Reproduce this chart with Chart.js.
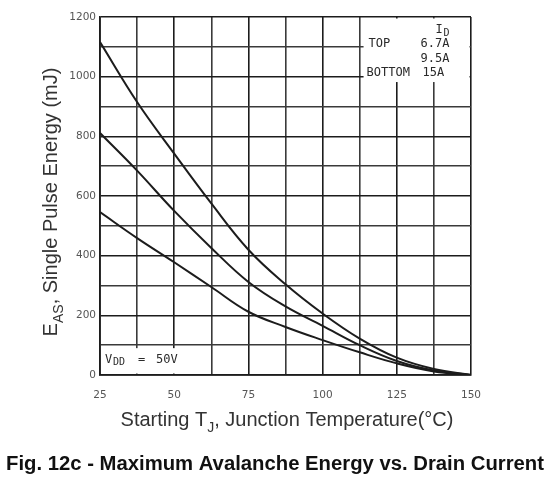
<!DOCTYPE html>
<html>
<head>
<meta charset="utf-8">
<script src="https://cdn.jsdelivr.net/npm/chart.js@4/dist/chart.umd.min.js"></script>
<style>
  html, body { margin: 0; padding: 0; background: #fff; }
  #wrap { width: 552px; height: 477px; position: relative; }
</style>
</head>
<body>
<div id="wrap"><canvas id="chart"></canvas></div>
<script>
'use strict';

// starting junction temperature (°C)
const temps = [25, 37.5, 50, 62.5, 75, 87.5, 100, 112.5, 125, 137.5, 150]
// single pulse avalanche energy (mJ) for each drain current
const eas67 = [1116, 915, 742, 575, 420, 304, 206, 122, 58, 20, 0]
const eas95 = [811, 685, 550, 426, 312, 230, 165, 100, 47, 15, 0]
const eas15 = [546, 459, 378, 295, 212, 161, 117, 76, 39, 12, 0]

const currents = ['6.7A', '9.5A', '15A']
const xTicks = [25, 50, 75, 100, 125, 150]
const yTicks = [0, 200, 400, 600, 800, 1000, 1200]

const ink = '#1c1c1c'

function points(ys) {
    return temps.map(function (t, i) { return { x: t, y: ys[i] } })
}

// draws text pieces in a row, some of them as subscripts
function drawRich(ctx, parts, x, y, size, weight, family) {
    var total = 0
    for (var p of parts) {
        ctx.font = weight + ' ' + (p.sub ? size * 0.7 : size) + 'px ' + family
        p.w = ctx.measureText(p.t).width
        total += p.w
    }
    var cx = x - total / 2
    ctx.textAlign = 'left'
    ctx.textBaseline = 'alphabetic'
    for (var p of parts) {
        ctx.font = weight + ' ' + (p.sub ? size * 0.7 : size) + 'px ' + family
        ctx.fillText(p.t, cx, p.sub ? y + size * 0.28 : y)
        cx += p.w
    }
}

const notes = {
    id: 'notes',
    beforeDatasetsDraw(chart) {
        var ctx = chart.ctx
        var x = chart.scales.x
        var y = chart.scales.y
        var area = chart.chartArea
        ctx.save()
        ctx.fillStyle = '#fff'
        // legend box top right
        var lx = x.getPixelForValue(113.8)
        var ly = y.getPixelForValue(982)
        ctx.fillRect(lx, area.top + 1.5, area.right - 1.5 - lx, ly - area.top - 1.5)
        // supply voltage box bottom left
        var vx = x.getPixelForValue(53.5)
        var vy = y.getPixelForValue(90)
        ctx.fillRect(area.left + 1.5, vy, vx - area.left - 1.5, area.bottom - 1.5 - vy)

        ctx.fillStyle = '#2a2a2a'
        ctx.textBaseline = 'alphabetic'
        ctx.textAlign = 'left'
        var mono = '"DejaVu Sans Mono", monospace'
        ctx.font = '12px ' + mono
        ctx.fillText('I', lx + 72, area.top + 16)
        ctx.font = '10px ' + mono
        ctx.fillText('D', lx + 80, area.top + 19)
        ctx.font = '12px ' + mono
        ctx.fillText('TOP', lx + 5, area.top + 30)
        ctx.fillText(currents[0], lx + 57, area.top + 30)
        ctx.fillText(currents[1], lx + 57, area.top + 45)
        ctx.fillText('BOTTOM', lx + 3, area.top + 59)
        ctx.fillText(currents[2], lx + 59, area.top + 59)

        ctx.fillText('V', area.left + 5, area.bottom - 12)
        ctx.font = '10px ' + mono
        ctx.fillText('DD', area.left + 13, area.bottom - 10)
        ctx.font = '12px ' + mono
        ctx.fillText('=', area.left + 38, area.bottom - 12)
        ctx.fillText('50V', area.left + 56, area.bottom - 12)
        ctx.restore()
    },
    afterDraw(chart) {
        var ctx = chart.ctx
        var sans = '"Liberation Sans", Arial, sans-serif'
        ctx.save()
        ctx.fillStyle = '#333'
        drawRich(ctx, [
            { t: 'Starting T' }, { t: 'J', sub: true }, { t: ', Junction Temperature(°C)' }
        ], 287, 426, 20, 'normal', sans)

        ctx.save()
        ctx.translate(57, 202)
        ctx.rotate(-Math.PI / 2)
        drawRich(ctx, [
            { t: 'E' }, { t: 'AS', sub: true }, { t: ', Single Pulse Energy (mJ)' }
        ], 0, 0, 20, 'normal', sans)
        ctx.restore()

        ctx.fillStyle = '#111'
        drawRich(ctx, [
            { t: 'Fig. 12c - Maximum Avalanche Energy vs. Drain Current' }
        ], 275, 470, 20.3, 'bold', sans)
        ctx.restore()
    }
}

function gridColor(step) {
    return function (c) {
        return c.tick && c.tick.value % step === 0 ? ink : '#3a3a3a'
    }
}

function line(label, ys) {
    return {
        label: label,
        data: points(ys),
        borderColor: ink,
        borderWidth: 2,
        pointRadius: 0,
        fill: false,
        tension: 0.4
    }
}

new Chart(document.getElementById('chart'), {
    type: 'line',
    data: {
        datasets: [
            line(currents[0], eas67),
            line(currents[1], eas95),
            line(currents[2], eas15),
        ]
    },
    options: {
        responsive: true,
        maintainAspectRatio: false,
        animation: false,
        events: [],
        layout: { padding: { left: 0, top: 17, right: 81, bottom: 0 } },
        plugins: {
            legend: { display: false },
            tooltip: { enabled: false },
            title: { display: false }
        },
        scales: {
            x: {
                type: 'linear',
                min: 25,
                max: 150,
                afterFit: function (s) { s.height = 102 },
                grid: { color: gridColor(25), lineWidth: 1.6, drawTicks: false },
                border: { color: ink, width: 1.8 },
                ticks: {
                    stepSize: 12.5,
                    autoSkip: false,
                    maxRotation: 0,
                    maxTicksLimit: 20,
                    padding: 14,
                    color: '#555',
                    font: { family: '"DejaVu Sans", sans-serif', size: 10.5 },
                    callback: function (v) { return xTicks.includes(v) ? String(v) : '' }
                }
            },
            y: {
                min: 0,
                max: 1200,
                afterFit: function (s) { s.width = 100 },
                grid: { color: gridColor(200), lineWidth: 1.6, drawTicks: false },
                border: { color: ink, width: 1.8 },
                ticks: {
                    stepSize: 100,
                    autoSkip: false,
                    maxTicksLimit: 20,
                    padding: 4,
                    color: '#555',
                    font: { family: '"DejaVu Sans", sans-serif', size: 10.5 },
                    callback: function (v) { return yTicks.includes(v) ? String(v) : '' }
                }
            }
        }
    },
    plugins: [notes]
});
</script>
</body>
</html>
